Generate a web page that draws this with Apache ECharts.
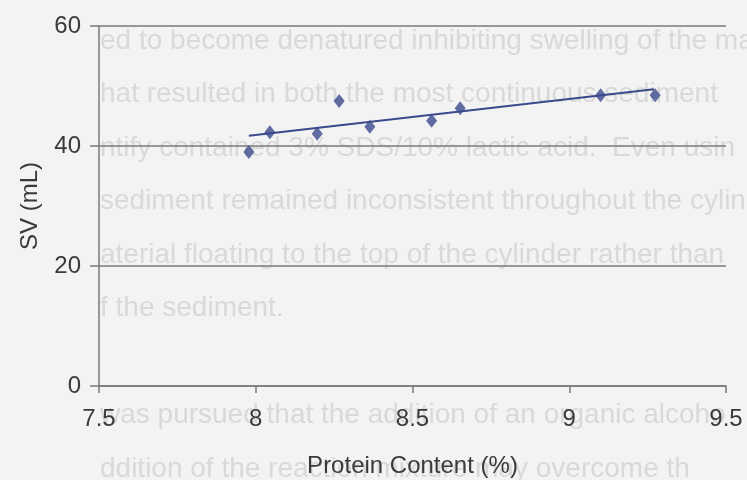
<!DOCTYPE html>
<html>
<head>
<meta charset="utf-8">
<script src="https://cdn.jsdelivr.net/npm/echarts@6/dist/echarts.min.js"></script>
<style>
  html, body { margin: 0; padding: 0; background: #f3f3f3; }
  #chart { width: 747px; height: 480px; }
</style>
</head>
<body>
<div id="chart"></div>
<script>
// Protein content (%) and sediment volume (mL) for each sample
const proteinContent = [7.978, 8.045, 8.196, 8.266, 8.364, 8.561, 8.652, 9.100, 9.274];
const sedimentVolume = [39.0, 42.3, 42.05, 47.5, 43.2, 44.2, 46.3, 48.45, 48.45];

// Linear trend line end points
const trendX = [7.978, 9.27];
const trendY = [41.7, 49.45];

// Axis ranges and tick steps
const xRange = [7.5, 9.5];
const xStep = 0.5;
const yRange = [0, 60];
const yStep = 20;

// Faint page text showing through behind the plot
const pageLines = [
  'ed to become denatured inhibiting swelling of the ma',
  'hat resulted in both the most continuous sediment',
  'ntify contained 3% SDS/10% lactic acid.  Even usin',
  'sediment remained inconsistent throughout the cylin',
  'aterial floating to the top of the cylinder rather than',
  'f the sediment.',
  '',
  'was pursued that the addition of an organic alcoho',
  'ddition of the reaction mixture may overcome th'
];

const ink = '#3b4a8c';
const textColor = '#3a3a3a';
const axisGray = '#7a7a7a';
const fontFamily = '"Liberation Sans", Arial, sans-serif';

const chart = echarts.init(document.getElementById('chart'), null, { renderer: 'canvas' });

const pageText = pageLines.map((line, i) => ({
  type: 'text',
  left: 100,
  top: 27 + i * 53.5,
  z: -10,
  silent: true,
  style: {
    text: line,
    fill: '#d9d9d9',
    font: '28px ' + fontFamily
  }
}));

chart.setOption({
  backgroundColor: '#f3f3f3',
  animation: false,
  graphic: pageText,
  grid: { left: 99, right: 21, top: 26, bottom: 94, containLabel: false, outerBoundsMode: 'none' },
  xAxis: {
    type: 'value',
    min: xRange[0],
    max: xRange[1],
    interval: xStep,
    name: 'Protein Content (%)',
    nameLocation: 'middle',
    nameGap: 68,
    nameTextStyle: { fontSize: 24, color: textColor, fontFamily: fontFamily },
    axisLine: { show: true, lineStyle: { color: axisGray, width: 1.5 } },
    axisTick: { show: true, length: 7, lineStyle: { color: axisGray, width: 1.5 } },
    axisLabel: { fontSize: 24, color: textColor, margin: 21, fontFamily: fontFamily },
    splitLine: { show: false }
  },
  yAxis: {
    type: 'value',
    min: yRange[0],
    max: yRange[1],
    interval: yStep,
    name: 'SV (mL)',
    nameLocation: 'middle',
    nameGap: 57,
    nameRotate: 90,
    nameTextStyle: { fontSize: 24, color: textColor, fontFamily: fontFamily },
    axisLine: { show: true, lineStyle: { color: axisGray, width: 1.5 } },
    axisTick: { show: true, length: 9, lineStyle: { color: axisGray, width: 1.5 } },
    axisLabel: { fontSize: 24, color: textColor, margin: 18, fontFamily: fontFamily },
    splitLine: { show: true, lineStyle: { color: axisGray, width: 1.5 } }
  },
  series: [
    {
      name: 'SV',
      type: 'scatter',
      symbol: 'diamond',
      symbolSize: [11, 14],
      itemStyle: { color: ink },
      data: proteinContent.map((x, i) => [x, sedimentVolume[i]]),
      z: 3
    },
    {
      name: 'Trend',
      type: 'line',
      showSymbol: false,
      symbol: 'none',
      lineStyle: { color: ink, width: 2 },
      data: trendX.map((x, i) => [x, trendY[i]]),
      z: 2
    }
  ]
});
</script>
</body>
</html>
